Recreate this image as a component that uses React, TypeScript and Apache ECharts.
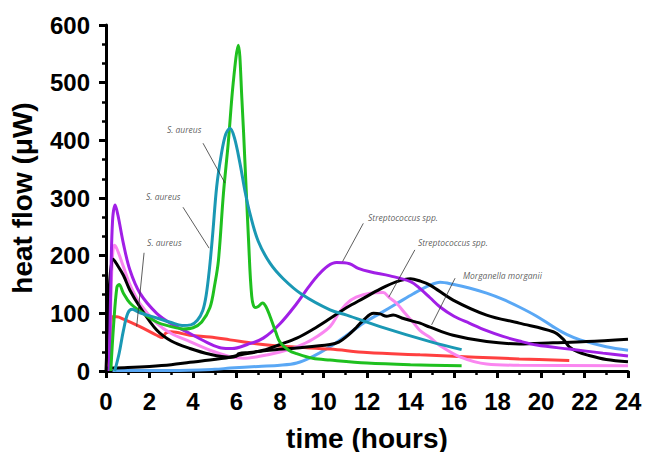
import React, { useEffect, useRef } from "react";
import * as echarts from "echarts";

// Series values: [time (h), heat flow (µW)]
const greenSA: number[][] = [[0.22,0],[0.35,80],[0.5,145],[0.6,150],[0.8,135],[1.1,118],[1.56,104],[2.33,85],[3.0,77],[3.55,73],[4.0,75],[4.4,85],[4.78,110],[5.0,150],[5.17,192],[5.4,308],[5.62,395],[5.85,500],[6.08,565],[6.25,470],[6.39,360],[6.55,230],[6.7,130],[6.85,110],[7.0,112],[7.2,118],[7.35,112],[7.54,95],[7.8,68],[8.0,50],[8.4,36],[8.77,30],[9.5,22],[10.3,19],[12,14],[14,11],[16.35,9]];
const tealSA: number[][] = [[0.4,0],[0.6,30],[0.8,70],[1.0,100],[1.2,107],[1.56,101],[2.33,92],[3.0,84],[3.5,79],[3.9,80],[4.2,88],[4.45,105],[4.6,130],[4.75,175],[4.9,235],[5.09,320],[5.3,375],[5.5,410],[5.7,421],[5.9,405],[6.16,360],[6.4,310],[6.62,273],[7.0,225],[7.54,187],[8.15,160],[9.0,133],[10.3,106],[11.07,97],[12.6,77],[14.9,51],[16.35,37]];
const purpleStrep: number[][] = [[0.15,0],[0.22,150],[0.3,260],[0.42,288],[0.55,270],[0.8,221],[1.1,175],[1.56,135],[2.33,100],[3.0,82],[3.86,65],[4.78,47],[5.3,40],[5.8,39],[6.5,46],[7.23,57],[8.0,82],[8.77,117],[9.3,145],[9.7,164],[10.2,182],[10.6,188],[11.2,186],[11.6,178],[12.14,172],[13.06,165],[14.0,155],[14.44,143],[14.9,127],[15.36,111],[16.0,95],[16.7,83],[17.5,70],[18.25,60],[19.0,52],[19.8,45],[21.3,38],[22.85,31],[24,26]];
const pinkStrep: number[][] = [[0.15,0],[0.22,120],[0.3,200],[0.38,218],[0.5,212],[0.8,181],[1.1,150],[1.56,117],[2.33,83],[3.0,65],[3.86,51],[4.78,36],[5.7,25],[6.3,22],[7.0,25],[8.0,33],[8.77,42],[9.5,55],[10.3,77],[10.7,100],[11.07,117],[11.5,128],[12.14,135],[12.75,136],[13.0,128],[13.37,117],[13.75,100],[14.13,84],[14.44,70],[14.9,58],[15.36,44],[16.3,24],[17.5,12],[19,10],[24,9]];
const blackMorganella: number[][] = [[0,0],[0.1,100],[0.2,170],[0.33,194],[0.5,185],[0.8,166],[1.1,140],[1.56,111],[2.33,71],[3.0,52],[3.86,39],[4.78,29],[5.7,24],[6.0,26],[6.1,30],[6.6,32],[7.5,36],[8.77,40],[10.3,46],[10.7,50],[11.07,60],[11.5,75],[11.83,88],[12.3,100],[12.6,99],[12.9,95],[13.2,97],[13.6,92],[14.13,86],[14.44,83],[14.9,76],[15.96,62],[17.5,51],[19.0,47],[20.55,49],[22.1,51],[24,55]];
const blackOther: number[][] = [[0.2,5],[1,6],[2,8],[3,11],[3.86,15],[4.78,19],[5.7,24],[6.2,28],[7.23,36],[8.0,46],[8.77,57],[9.5,72],[10.3,91],[11.07,110],[11.83,126],[12.6,142],[13.37,155],[14.0,160],[14.44,156],[14.9,149],[15.96,123],[17.5,97],[19.0,83],[20.56,68],[21.0,56],[21.3,42],[21.7,33],[22.1,28],[23,20],[24,16]];
const redSeries: number[][] = [[0,10],[0.12,12],[0.2,60],[0.3,94],[0.5,94],[0.8,90],[1.56,77],[2.33,62],[2.6,58],[2.75,66],[3.0,68],[3.86,62],[4.78,59],[5.7,54],[7,47],[8.5,42],[10.3,38],[12,32],[14.44,28],[17,24],[19,21],[21.3,18]];
const blueSeries: number[][] = [[0.3,1],[3,1],[5,3],[5.7,5],[7,8],[8.0,10],[8.77,14],[9.5,25],[10.3,42],[11.07,62],[11.83,83],[12.6,100],[13.37,117],[14.13,134],[14.9,149],[15.36,154],[16.0,150],[16.7,144],[17.5,135],[18.2,125],[19.0,111],[19.8,95],[20.55,77],[21.2,63],[21.8,54],[23.0,42],[24,36]];

// Annotations: label text, label anchor [h, v], leader line from/to [h, v]
const annoTexts: string[] = ["S. aureus", "S. aureus", "S. aureus", "Streptococcus spp.", "Streptococcus spp.", "Morganella morganii"];
const annoAnchors: number[][] = [[2.8,418],[1.84,302],[1.89,222],[12.05,267],[14.34,222],[16.41,166]];
const annoLines: number[][][] = [
  [[4.46,395],[5.47,326]],
  [[3.54,284],[4.74,213]],
  [[1.75,205],[1.41,77]],
  [[11.83,256],[10.88,190]],
  [[14.2,210],[13.0,128]],
  [[16.05,161],[14.97,80]],
];

const xTicks = { min: 0, max: 24, interval: 2 };
const yTicks = { min: 0, max: 600, interval: 100 };

const FONT = "'Liberation Sans', Arial, sans-serif";

export default function App() {
  const ref = useRef<HTMLDivElement>(null);
  useEffect(() => {
    if (!ref.current) return;
    const chart = echarts.init(ref.current, undefined, { renderer: "svg" });
    const mk = (data: number[][], color: string, z: number) => ({
      type: "line",
      data,
      showSymbol: false,
      symbol: "none",
      smooth: 0.35,
      lineStyle: { color, width: 3 },
      z,
      silent: true,
    });
    const curves = [
      mk(blueSeries, "#5aa8f5", 2),
      mk(redSeries, "#ff4040", 3),
      mk(pinkStrep, "#fa86f0", 4),
      mk(blackOther, "#000000", 5),
      mk(blackMorganella, "#000000", 5),
      mk(purpleStrep, "#a11fe6", 6),
      mk(greenSA, "#1fc01f", 7),
      mk(tealSA, "#1a98b4", 8),
    ];
    const leaders = annoLines.map((seg) => ({
      type: "line",
      data: seg,
      showSymbol: false,
      symbol: "none",
      lineStyle: { color: "#333", width: 0.8 },
      z: 10,
      silent: true,
    }));
    const labels = {
      type: "scatter",
      symbolSize: 0,
      z: 11,
      silent: true,
      data: annoAnchors.map((p, i) => ({ value: p, name: annoTexts[i] })),
      label: {
        show: true,
        position: "right",
        distance: 0,
        formatter: (p: any) => p.name,
        fontFamily: "'Open Sans', sans-serif",
        fontStyle: "italic",
        fontSize: 8.5,
        color: "#333",
      },
    };
    chart.setOption({
      animation: false,
      backgroundColor: "#ffffff",
      grid: { left: 106, right: 18, top: 25, bottom: 81, containLabel: false, outerBoundsMode: "none" },
      xAxis: {
        type: "value",
        ...xTicks,
        name: "time (hours)",
        nameLocation: "middle",
        nameGap: 53,
        nameMoveOverlap: false,
        nameTextStyle: { fontFamily: FONT, fontWeight: "bold", fontSize: 28, color: "#000" },
        axisLine: { show: true, lineStyle: { color: "#000", width: 3 } },
        axisTick: { show: true, length: 7, lineStyle: { color: "#000", width: 3 } },
        minorTick: { show: true, splitNumber: 2, length: 4, lineStyle: { color: "#000", width: 2.5 } },
        splitLine: { show: false },
        axisLabel: { fontFamily: FONT, fontWeight: "bold", fontSize: 24, color: "#000", margin: 18 },
      },
      yAxis: {
        type: "value",
        ...yTicks,
        name: "heat flow (\u03bcW)",
        nameLocation: "middle",
        nameGap: 70,
        nameRotate: 90,
        nameMoveOverlap: false,
        nameTextStyle: { fontFamily: FONT, fontWeight: "bold", fontSize: 28, color: "#000" },
        axisLine: { show: true, lineStyle: { color: "#000", width: 3 } },
        axisTick: { show: true, length: 7, lineStyle: { color: "#000", width: 3 } },
        minorTick: { show: true, splitNumber: 3, length: 4, lineStyle: { color: "#000", width: 2.5 } },
        splitLine: { show: false },
        axisLabel: { fontFamily: FONT, fontWeight: "bold", fontSize: 24, color: "#000", margin: 16 },
      },
      series: [...curves, ...leaders, labels],
    });
    return () => chart.dispose();
  }, []);
  return <div ref={ref} style={{ width: 646, height: 452, position: "absolute", left: 0, top: 0 }} />;
}
